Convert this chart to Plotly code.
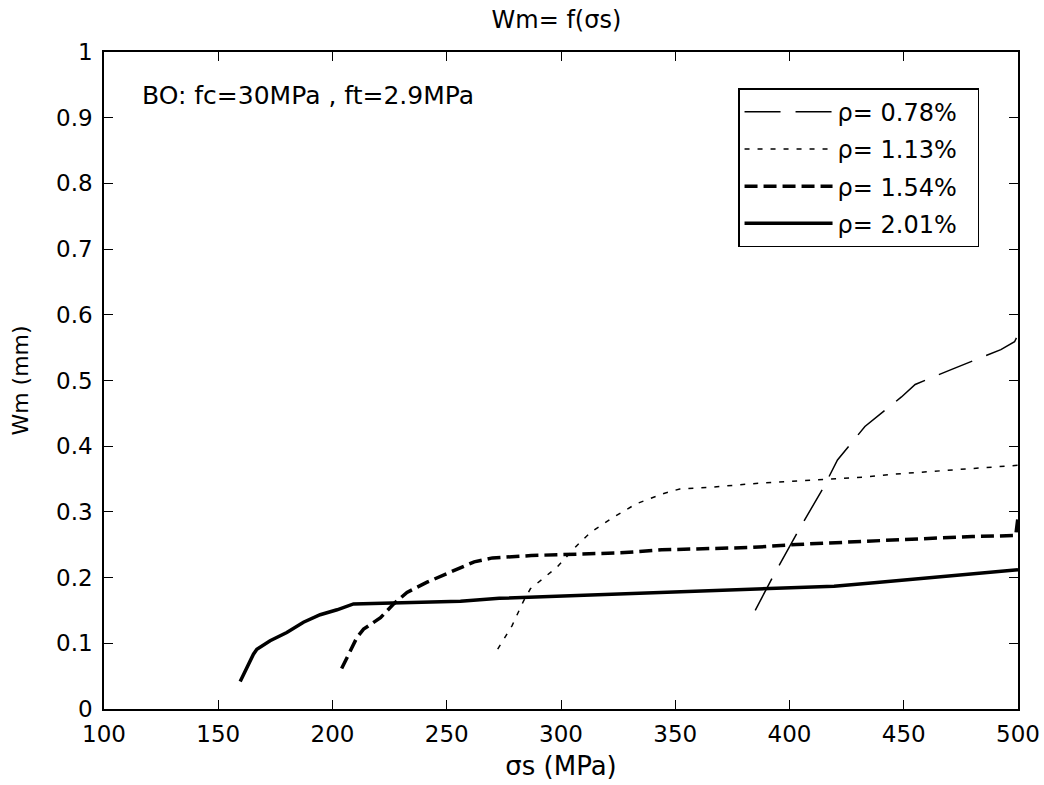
import plotly.graph_objects as go

# ---- data ----
sigma_078 = [385, 392.5, 404, 415, 421, 429, 433, 449, 455, 471, 492.5, 498.5, 500]
w_078 = [0.150, 0.200, 0.272, 0.338, 0.379, 0.414, 0.430, 0.475, 0.494, 0.517, 0.547, 0.559, 0.570]

sigma_113 = [272.3, 278.6, 283.7, 286.6, 298.3, 307, 313, 323, 333, 345, 352, 367, 384, 433, 444, 495.5, 500]
w_113 = [0.091, 0.127, 0.165, 0.183, 0.216, 0.249, 0.269, 0.292, 0.3125, 0.328, 0.335, 0.338, 0.343, 0.353, 0.357, 0.370, 0.371]

sigma_154 = [204, 210.7, 213.6, 221, 226.8, 232.6, 241.4, 253, 262, 270, 287, 326, 344, 384, 403, 441, 480, 499, 500]
w_154 = [0.0615, 0.109, 0.1215, 0.139, 0.160, 0.1775, 0.193, 0.210, 0.224, 0.230, 0.2336, 0.2377, 0.2423, 0.246, 0.2504, 0.2565, 0.2626, 0.264, 0.292]

sigma_201 = [159.6, 165.4, 166.9, 172.7, 180, 187.3, 194.6, 202, 209.2, 235, 256, 273, 297, 321, 344, 368, 382, 419.5, 437, 456, 474, 493, 500]
w_201 = [0.042, 0.0835, 0.091, 0.104, 0.1165, 0.132, 0.1435, 0.151, 0.160, 0.1615, 0.164, 0.1685, 0.1715, 0.1745, 0.1775, 0.1805, 0.182, 0.187, 0.192, 0.198, 0.204, 0.2107, 0.212]

series_names = ["ρ= 0.78%", "ρ= 1.13%", "ρ= 1.54%", "ρ= 2.01%"]
x_ticks = [100, 150, 200, 250, 300, 350, 400, 450, 500]
y_ticks = [0, 0.1, 0.2, 0.3, 0.4, 0.5, 0.6, 0.7, 0.8, 0.9, 1]
y_tick_labels = ["0", "0.1", "0.2", "0.3", "0.4", "0.5", "0.6", "0.7", "0.8", "0.9", "1"]

FONT = "DejaVu Sans"
FS = 23

fig = go.Figure()
styles = [
    dict(width=1.5, dash="36px,15px"),
    dict(width=1.5, dash="5px,8px"),
    dict(width=3.5, dash="13px,6px"),
    dict(width=3.5, dash="solid"),
]
data = [(sigma_078, w_078), (sigma_113, w_113), (sigma_154, w_154), (sigma_201, w_201)]
for i, ((xs, ys), name, st) in enumerate(zip(data, series_names, styles)):
    fig.add_trace(go.Scatter(
        x=xs, y=ys, mode="lines", name=name + "\u00a0\u00a0",
        line=dict(color="black", width=st["width"], dash=st["dash"]),
        legendgroup=f"g{i}",
    ))

axis_common = dict(
    showgrid=False, zeroline=False, showline=True, linecolor="black", linewidth=1.5,
    mirror="ticks", ticks="inside", ticklen=9, tickwidth=1.2, tickcolor="black",
    tickfont=dict(family=FONT, size=FS, color="black"),
)

fig.update_layout(
    width=1044, height=785,
    margin=dict(l=104, r=26, t=52, b=76, autoexpand=False),
    paper_bgcolor="white", plot_bgcolor="white",
    font=dict(family=FONT, size=FS, color="black"),
    title=dict(text="Wm= f(σs)", x=0.533, xanchor="center", y=0.975, yanchor="middle",
               font=dict(family=FONT, size=24, color="black")),
    xaxis=dict(range=[100, 500], tickvals=x_ticks, ticktext=[str(v) for v in x_ticks],
               ticklabelstandoff=4,
               title=dict(text="σs (MPa)", standoff=10, font=dict(family=FONT, size=26)),
               **axis_common),
    yaxis=dict(range=[0, 1], tickvals=y_ticks, ticktext=y_tick_labels,
               ticklabelstandoff=5,
               title=dict(text="Wm (mm)", standoff=21, font=dict(family=FONT, size=22)),
               **axis_common),
    legend=dict(
        x=0.6937, xanchor="left", y=0.945, yanchor="top",
        bgcolor="white", bordercolor="black", borderwidth=1.5,
        font=dict(family=FONT, size=24, color="black"),
        itemwidth=88, tracegroupgap=3, traceorder="grouped",
    ),
    showlegend=True,
)

fig.add_annotation(
    x=115.8, y=0.934, xref="x", yref="y", text="BO: fc=30MPa , ft=2.9MPa",
    showarrow=False, xanchor="left", yanchor="middle",
    font=dict(family=FONT, size=25, color="black"),
)

fig.write_html("out.html")
